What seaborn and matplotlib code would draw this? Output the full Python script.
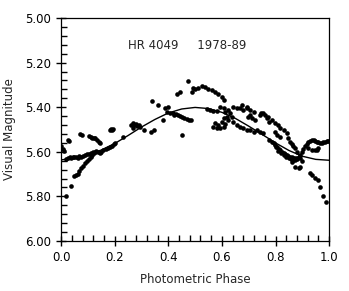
import numpy as np
import pandas as pd
import matplotlib
matplotlib.use("Agg")
import matplotlib.pyplot as plt
from matplotlib.ticker import MultipleLocator, FormatStrFormatter
import seaborn as sns

phase = [
    0.000, 0.006, 0.012, 0.018, 0.024, 0.029, 0.020, 0.026, 0.032, 0.038,
    0.044, 0.050, 0.056, 0.062, 0.068, 0.074, 0.080, 0.036, 0.050, 0.056,
    0.062, 0.068, 0.075, 0.082, 0.090, 0.097, 0.104, 0.110, 0.116, 0.122,
    0.072, 0.078, 0.104, 0.110, 0.116, 0.122, 0.128, 0.134, 0.140, 0.144,
    0.088, 0.096, 0.104, 0.112, 0.120, 0.126, 0.132, 0.138, 0.144, 0.150,
    0.158, 0.166, 0.174, 0.182, 0.190, 0.196, 0.202, 0.184, 0.188, 0.191,
    0.194, 0.230, 0.262, 0.268, 0.273, 0.278, 0.284, 0.290, 0.270, 0.296,
    0.310, 0.336, 0.345, 0.338, 0.362, 0.381, 0.388, 0.400, 0.395, 0.408,
    0.418, 0.428, 0.436, 0.444, 0.452, 0.460, 0.468, 0.476, 0.484, 0.420,
    0.450, 0.431, 0.444, 0.474, 0.487, 0.494, 0.500, 0.512, 0.524, 0.537,
    0.550, 0.562, 0.575, 0.587, 0.600, 0.606, 0.544, 0.556, 0.568, 0.580,
    0.593, 0.606, 0.612, 0.624, 0.631, 0.637, 0.618, 0.606, 0.599, 0.587,
    0.574, 0.568, 0.581, 0.593, 0.606, 0.612, 0.643, 0.656, 0.668, 0.680,
    0.693, 0.705, 0.718, 0.705, 0.699, 0.712, 0.724, 0.743, 0.755, 0.768,
    0.774, 0.643, 0.656, 0.668, 0.680, 0.693, 0.705, 0.718, 0.730, 0.743,
    0.755, 0.674, 0.693, 0.624, 0.746, 0.759, 0.771, 0.786, 0.799, 0.811,
    0.817, 0.799, 0.805, 0.817, 0.830, 0.842, 0.848, 0.854, 0.861, 0.867,
    0.873, 0.879, 0.776, 0.786, 0.793, 0.799, 0.806, 0.812, 0.817, 0.824,
    0.830, 0.836, 0.842, 0.848, 0.854, 0.860, 0.866, 0.873, 0.880, 0.886,
    0.800, 0.810, 0.820, 0.830, 0.840, 0.850, 0.858, 0.866, 0.874, 0.882,
    0.890, 0.892, 0.898, 0.904, 0.910, 0.916, 0.923, 0.929, 0.935, 0.942,
    0.948, 0.954, 0.960, 0.966, 0.973, 0.979, 0.985, 0.991, 0.997, 0.923,
    0.935, 0.948, 0.954, 0.960, 0.861, 0.873, 0.886, 0.892, 0.898, 0.929,
    0.935, 0.948, 0.960, 0.966, 0.979, 0.989,
]
magnitude = [
    5.575, 5.588, 5.598, 5.800, 5.548, 5.552, 5.632, 5.628, 5.622, 5.626,
    5.622, 5.625, 5.622, 5.626, 5.620, 5.622, 5.618, 5.752, 5.708, 5.706,
    5.700, 5.688, 5.672, 5.662, 5.652, 5.642, 5.632, 5.622, 5.614, 5.606,
    5.520, 5.524, 5.530, 5.534, 5.536, 5.538, 5.540, 5.546, 5.555, 5.562,
    5.616, 5.612, 5.610, 5.606, 5.602, 5.600, 5.596, 5.602, 5.606, 5.600,
    5.592, 5.588, 5.582, 5.578, 5.572, 5.566, 5.560, 5.502, 5.498, 5.502,
    5.500, 5.532, 5.478, 5.472, 5.482, 5.476, 5.486, 5.480, 5.492, 5.488,
    5.502, 5.510, 5.502, 5.371, 5.390, 5.457, 5.404, 5.400, 5.420, 5.424,
    5.428, 5.432, 5.436, 5.440, 5.444, 5.448, 5.452, 5.456, 5.458, 5.436,
    5.525, 5.340, 5.330, 5.283, 5.330, 5.315, 5.318, 5.312, 5.304, 5.310,
    5.318, 5.324, 5.332, 5.342, 5.353, 5.366, 5.410, 5.412, 5.415, 5.418,
    5.398, 5.405, 5.420, 5.413, 5.428, 5.443, 5.443, 5.450, 5.465, 5.480,
    5.472, 5.487, 5.495, 5.495, 5.487, 5.476, 5.398, 5.402, 5.405, 5.413,
    5.405, 5.413, 5.420, 5.435, 5.443, 5.450, 5.457, 5.435, 5.428, 5.450,
    5.465, 5.465, 5.480, 5.487, 5.495, 5.502, 5.502, 5.510, 5.502, 5.510,
    5.517, 5.390, 5.398, 5.457, 5.425, 5.435, 5.443, 5.457, 5.469, 5.480,
    5.495, 5.510, 5.525, 5.532, 5.502, 5.517, 5.540, 5.555, 5.565, 5.572,
    5.584, 5.600, 5.545, 5.555, 5.562, 5.570, 5.578, 5.586, 5.592, 5.600,
    5.606, 5.612, 5.616, 5.620, 5.622, 5.625, 5.628, 5.629, 5.628, 5.624,
    5.580, 5.595, 5.606, 5.614, 5.622, 5.628, 5.632, 5.636, 5.638, 5.634,
    5.626, 5.614, 5.600, 5.588, 5.575, 5.565, 5.556, 5.550, 5.547, 5.548,
    5.550, 5.556, 5.558, 5.560, 5.562, 5.558, 5.556, 5.553, 5.550, 5.585,
    5.590, 5.594, 5.590, 5.583, 5.644, 5.667, 5.674, 5.667, 5.640, 5.697,
    5.706, 5.719, 5.726, 5.756, 5.800, 5.824,
]

# fitted light curve
fit_phase = [0.00, 0.05, 0.10, 0.15, 0.20, 0.25, 0.30, 0.35, 0.40, 0.45, 0.50,
             0.55, 0.60, 0.65, 0.70, 0.75, 0.80, 0.85, 0.90, 0.95, 1.00]
fit_mag = [5.636, 5.630, 5.614, 5.592, 5.563, 5.527, 5.489, 5.455, 5.426,
           5.408, 5.401, 5.406, 5.423, 5.450, 5.485, 5.522, 5.560, 5.594,
           5.620, 5.634, 5.638]

obs = pd.DataFrame({"phase": phase, "mag": magnitude})
fit = pd.DataFrame({"phase": fit_phase, "mag": fit_mag})

sns.set_style("ticks")
plt.rcParams["font.family"] = ["DejaVu Sans"]

fig = plt.figure(figsize=(3.49, 2.91), dpi=100)
ax = fig.add_axes([0.175, 0.172, 0.768, 0.766])

sns.scatterplot(data=obs, x="phase", y="mag", ax=ax, color="black",
                s=11, linewidth=0, legend=False)
sns.lineplot(data=fit, x="phase", y="mag", ax=ax, color="black",
             linewidth=1.0, sort=True)

ax.set_xlim(0.0, 1.0)
ax.set_ylim(6.00, 5.00)
ax.xaxis.set_major_locator(MultipleLocator(0.2))
ax.xaxis.set_minor_locator(MultipleLocator(0.04))
ax.yaxis.set_major_locator(MultipleLocator(0.2))
ax.yaxis.set_minor_locator(MultipleLocator(0.04))
ax.xaxis.set_major_formatter(FormatStrFormatter("%.1f"))
ax.yaxis.set_major_formatter(FormatStrFormatter("%.2f"))
ax.tick_params(which="major", length=7, width=1.0, color="black",
               direction="inout", labelsize=8.5, labelcolor="black")
ax.tick_params(which="minor", length=4, width=1.0, color="black",
               direction="in")
ax.tick_params(which="both", top=False, right=False)
for sp in ax.spines.values():
    sp.set_linewidth(0.9)
    sp.set_color("black")

ax.set_xlabel("Photometric Phase", fontsize=8.5, labelpad=7)
ax.set_ylabel("Visual Magnitude", fontsize=8.5, labelpad=7)
ax.text(0.25, 5.125, "HR 4049     1978-89", fontsize=8.5, va="center")

fig.savefig("out.png", dpi=100)
